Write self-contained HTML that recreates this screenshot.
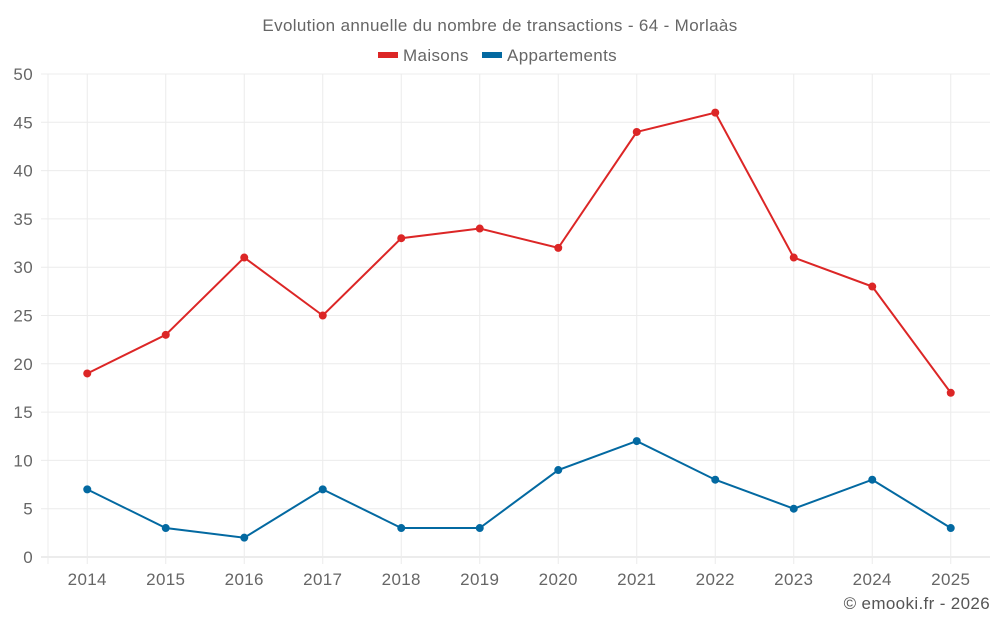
<!DOCTYPE html>
<html><head><meta charset="utf-8"><style>
body{margin:0;background:#fff;}
svg{display:block;font-family:"Liberation Sans",sans-serif;}
text{letter-spacing:0.35px;}
</style></head><body>
<svg id="chart" width="1000" height="625" viewBox="0 0 1000 625">
<text x="500" y="31" text-anchor="middle" font-size="17" fill="#666">Evolution annuelle du nombre de transactions - 64 - Morlaàs</text>
<g>
<g><rect x="378" y="52" width="20" height="6" fill="#dc2626"/><text x="403" y="61" font-size="17" fill="#666">Maisons</text></g>
<g><rect x="482" y="52" width="20" height="6" fill="#0369a1"/><text x="507" y="61" font-size="17" fill="#666">Appartements</text></g>
</g>
<g id="grid"></g>
<g id="axes"></g>
<g id="series"></g>
<text x="990" y="609" text-anchor="end" font-size="17" fill="#555">© emooki.fr - 2026</text>
</svg>
<script>
const categories=["2014","2015","2016","2017","2018","2019","2020","2021","2022","2023","2024","2025"];
const maisons=[19,23,31,25,33,34,32,44,46,31,28,17];
const appartements=[7,3,2,7,3,3,9,12,8,5,8,3];
const yTicks=[0,5,10,15,20,25,30,35,40,45,50];
const NS="http://www.w3.org/2000/svg";
const L=48,R=990,T=74,B=557,yMax=50;
const bw=(R-L)/categories.length;
function x(i){return L+bw*(i+0.5);}
function y(v){return B-(v/yMax)*(B-T);}
function mk(tag,attrs,parent){const e=document.createElementNS(NS,tag);for(const k in attrs)e.setAttribute(k,attrs[k]);parent.appendChild(e);return e;}
const grid=document.getElementById('grid'),axes=document.getElementById('axes'),series=document.getElementById('series');
yTicks.forEach(v=>{
 const g=mk('line',{x1:41,x2:R,y1:y(v),y2:y(v),stroke:v===0?'#d8d8d8':'#ececec','stroke-width':1},grid);
 
 
 const t=mk('text',{x:33,y:y(v)+6,'text-anchor':'end','font-size':17,fill:'#666'},axes);
 t.textContent=v;
 
 
});
mk('line',{x1:L,x2:L,y1:T,y2:B+7,stroke:'#ececec'},grid);
categories.forEach((c,i)=>{
 const g=mk('line',{x1:x(i),x2:x(i),y1:T,y2:B+7,stroke:'#ececec'},grid);
 
 
 const t=mk('text',{x:x(i),y:585,'text-anchor':'middle','font-size':17,fill:'#666'},axes);
 t.textContent=c;
 
 
});
function draw(data,color,name){
 const p=mk('polyline',{points:data.map((v,i)=>x(i)+','+y(v)).join(' '),fill:'none',stroke:color,'stroke-width':2},series);
 
 
 data.forEach((v,i)=>{
  const c=mk('circle',{cx:x(i),cy:y(v),r:4,fill:color},series);
  
  
 });
}
draw(maisons,'#dc2626','maisons');
draw(appartements,'#0369a1','appartements');
</script>
</body></html>
